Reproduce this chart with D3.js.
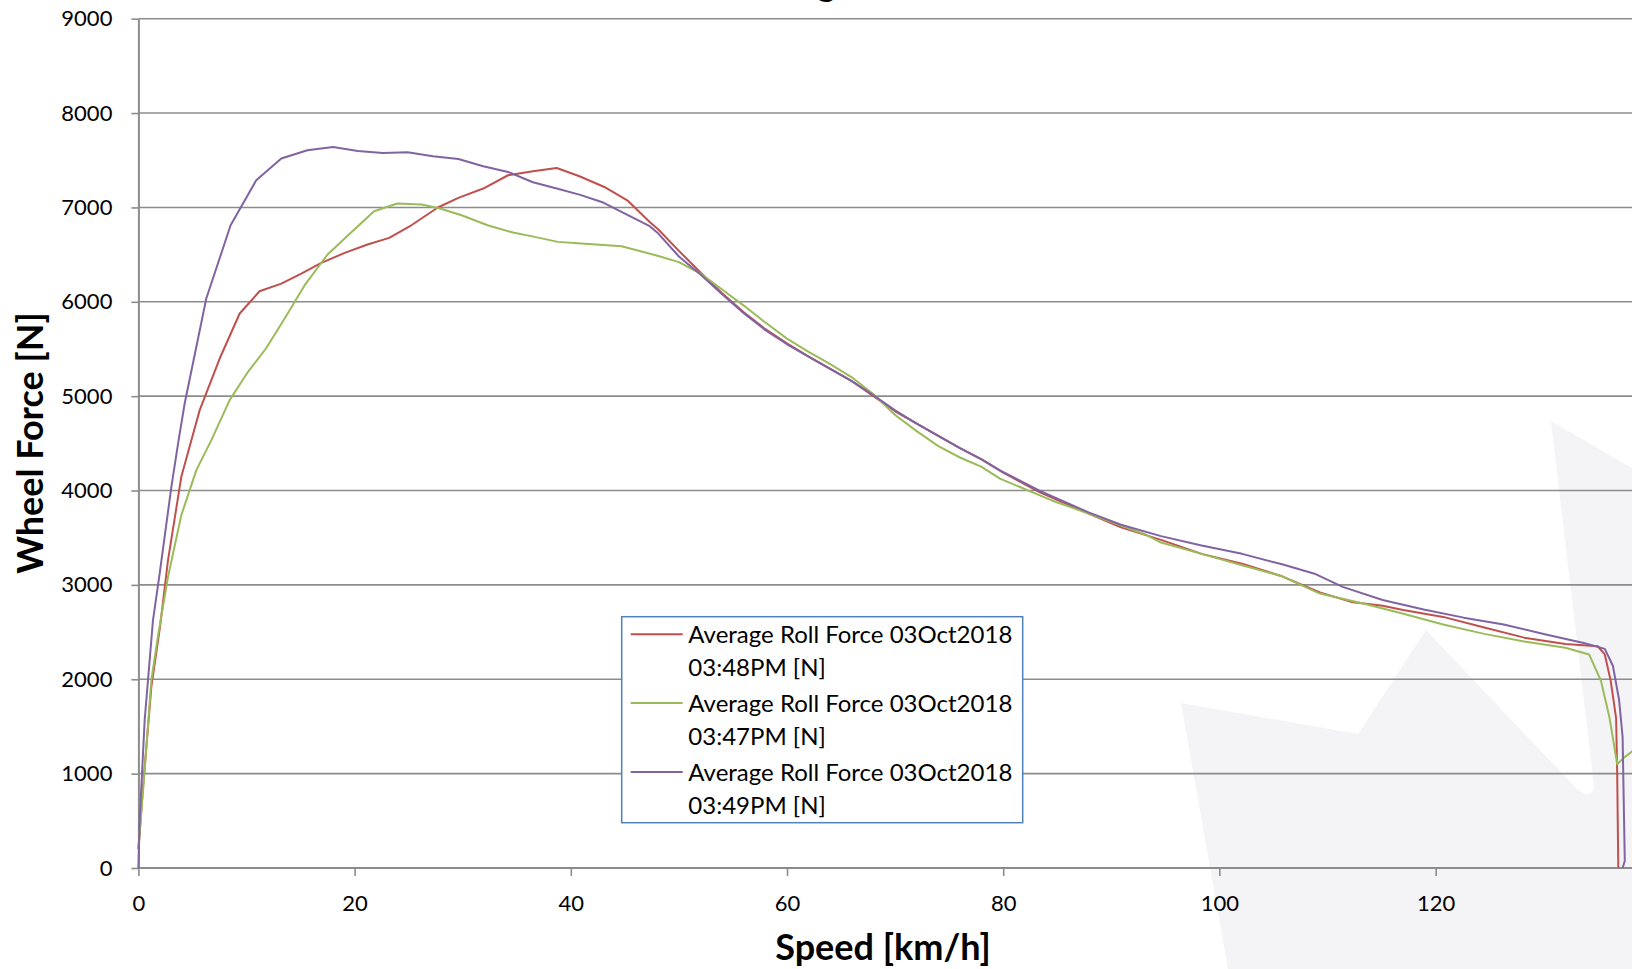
<!DOCTYPE html>
<html>
<head>
<meta charset="utf-8">
<script src="https://cdn.jsdelivr.net/npm/d3@7"></script>
<style>
  html, body { margin: 0; padding: 0; background: #fff; }
  svg { display: block; font-family: Lato, "Open Sans", sans-serif; }
</style>
</head>
<body>
<svg width="1632" height="969"></svg>
<script>
  // series values (speed km/h, force N)
  const speed48 = [0, 0.43, 1.2, 2.0, 2.74, 3.97, 4.9, 5.67, 7.52, 9.37, 11.2, 13.22, 15.07, 16.92, 19.08, 21.2, 23.2, 25.25, 27.7, 29.6, 31.9, 34.2, 36.5, 38.7, 40.8, 43.1, 45.3, 47.3, 48.1, 50, 52, 54, 56, 58, 60, 62, 64, 66, 68, 70, 72, 74, 76, 78, 80, 83.4, 87.9, 90.9, 94.6, 98.35, 102.1, 105.8, 109.3, 112.2, 115.1, 117, 120.7, 124.5, 128.2, 132, 135.0, 135.65, 136.2, 136.7, 136.8, 136.9];
  const force48 = [200, 861, 1921, 2556, 3263, 4145, 4534, 4852, 5399, 5876, 6112, 6193, 6299, 6412, 6518, 6607, 6677, 6811, 6999, 7101, 7200, 7341, 7383, 7418, 7330, 7217, 7069, 6846, 6766, 6540, 6310, 6090, 5890, 5710, 5560, 5420, 5290, 5160, 5000, 4840, 4710, 4580, 4450, 4330, 4190, 3980, 3755, 3610, 3477, 3329, 3225, 3091, 2920, 2820, 2780, 2733, 2661, 2549, 2441, 2374, 2350, 2263, 1983, 1586, 988, 0];

  const speed47 = [0, 0.58, 1.2, 1.8, 2.74, 3.97, 5.36, 6.75, 8.44, 10.14, 11.8, 13.53, 15.38, 17.5, 19.4, 21.8, 23.95, 26.2, 27.9, 29.9, 32.3, 34.65, 36.66, 38.8, 41.0, 44.7, 48.1, 50, 52, 54, 56, 58, 60, 62, 64, 66, 68, 70, 72, 74, 76, 78, 79.7, 84.5, 88.4, 93.1, 94.6, 98.35, 102.1, 105.8, 109.3, 113.4, 117.1, 120.7, 124.5, 128.2, 132, 134.2, 135.3, 136.1, 136.8, 137.4, 138.3];
  const force47 = [200, 1038, 1992, 2450, 3086, 3739, 4216, 4534, 4958, 5258, 5505, 5823, 6176, 6501, 6706, 6960, 7041, 7031, 6988, 6917, 6811, 6734, 6688, 6635, 6617, 6589, 6486, 6420, 6300, 6130, 5960, 5780, 5610, 5470, 5340, 5200, 5020, 4800, 4630, 4470, 4350, 4250, 4126, 3895, 3736, 3537, 3449, 3329, 3209, 3091, 2908, 2800, 2692, 2580, 2481, 2401, 2334, 2263, 1983, 1586, 1100, 1167, 1247];

  const speed49 = [0, 0.12, 0.58, 1.35, 1.97, 3.05, 3.72, 4.28, 6.28, 8.53, 10.9, 13.22, 15.63, 18.0, 20.3, 22.6, 24.9, 27.25, 29.6, 31.9, 34.2, 36.5, 38.7, 40.8, 43.0, 45.1, 47.3, 48.1, 50, 52, 54, 56, 58, 60, 62, 64, 66, 68, 70, 72, 74, 76, 78, 79.7, 83.4, 87.9, 90.9, 94.6, 98.35, 102.1, 105.8, 108.8, 111.4, 115.1, 118.9, 122.6, 126.3, 130.1, 133.8, 135.65, 136.4, 136.97, 137.3, 137.5, 137.3];
  const force49 = [0, 508, 1568, 2627, 3122, 4039, 4534, 4922, 6035, 6811, 7288, 7518, 7606, 7641, 7599, 7578, 7585, 7542, 7514, 7436, 7376, 7267, 7200, 7136, 7052, 6928, 6801, 6723, 6480, 6290, 6080, 5880, 5700, 5550, 5420, 5290, 5160, 5010, 4850, 4710, 4580, 4450, 4330, 4214, 3995, 3768, 3637, 3517, 3417, 3329, 3218, 3119, 2979, 2840, 2740, 2653, 2580, 2478, 2382, 2322, 2143, 1785, 1388, 74, 0];

  const xTicks = [0, 20, 40, 60, 80, 100, 120];
  const yTicks = [0, 1000, 2000, 3000, 4000, 5000, 6000, 7000, 8000, 9000];
  const seriesNames = [
    ["Average Roll Force 03Oct2018", "03:48PM [N]"],
    ["Average Roll Force 03Oct2018", "03:47PM [N]"],
    ["Average Roll Force 03Oct2018", "03:49PM [N]"]
  ];
  const seriesColors = ["#c0504d", "#9bbb59", "#8064a2"];

  const series = [
    speed48.map((s, i) => [s, force48[i]]),
    speed47.map((s, i) => [s, force47[i]]),
    speed49.map((s, i) => [s, force49[i]])
  ];

  const svg = d3.select("svg");

  // scales - the plot runs past the right edge of the picture
  const x = d3.scaleLinear().domain([0, 140]).range([138.4, 1651.8]);
  const y = d3.scaleLinear().domain([0, 9000]).range([868, 18.7]);

  // light watermark shape behind the chart
  svg.append("path")
    .attr("d", "M1181,703 L1358,734 L1426,630 L1578,790 Q1592,800 1594,786 L1551,421 L1632,468 L1632,969 L1228,969 Z")
    .attr("fill", "#f4f4f7");

  // title sits above the picture, only its descender shows
  svg.append("text")
    .attr("x", 836)
    .attr("y", -4)
    .attr("text-anchor", "end")
    .attr("font-size", 36)
    .attr("font-weight", "bold")
    .text("Coastdown Testing");

  // gridlines
  svg.append("g")
    .selectAll("line")
    .data(yTicks.filter(d => d > 0))
    .join("line")
    .attr("x1", x(0))
    .attr("x2", 1632)
    .attr("y1", d => y(d))
    .attr("y2", d => y(d))
    .attr("stroke", "#8c8c8c")
    .attr("stroke-width", 1.6);

  // axes
  const xAxis = svg.append("g")
    .attr("transform", `translate(0,${y(0)})`)
    .call(d3.axisBottom(x).tickValues(xTicks).tickSize(8).tickPadding(19).tickSizeOuter(0));
  const yAxis = svg.append("g")
    .attr("transform", `translate(${x(0)},0)`)
    .call(d3.axisLeft(y).tickValues(yTicks).tickFormat(d3.format("d")).tickSize(7).tickPadding(19).tickSizeOuter(0));

  [xAxis, yAxis].forEach(g => {
    g.select(".domain").attr("stroke", "#8c8c8c").attr("stroke-width", 2);
    g.selectAll(".tick line").attr("stroke", "#8c8c8c").attr("stroke-width", 1.6);
    g.selectAll(".tick text")
      .attr("fill", "#000")
      .attr("font-size", 22)
      .attr("font-family", "Lato, sans-serif");
  });
  xAxis.select(".domain").attr("d", `M${x(0)},0H1632`);

  // series lines
  const line = d3.line().x(d => x(d[0])).y(d => y(d[1]));
  svg.append("g")
    .selectAll("path")
    .data(series)
    .join("path")
    .attr("d", line)
    .attr("fill", "none")
    .attr("stroke", (d, i) => seriesColors[i])
    .attr("stroke-width", 2)
    .attr("stroke-linejoin", "round");

  // axis titles
  svg.append("text")
    .attr("transform", "translate(43,443) rotate(-90)")
    .attr("text-anchor", "middle")
    .attr("font-size", 36)
    .attr("font-weight", "bold")
    .text("Wheel Force [N]");

  svg.append("text")
    .attr("x", 883)
    .attr("y", 960)
    .attr("text-anchor", "middle")
    .attr("font-size", 36)
    .attr("font-weight", "bold")
    .text("Speed [km/h]");

  // legend
  const legend = svg.append("g");
  legend.append("rect")
    .attr("x", 621.7)
    .attr("y", 616.7)
    .attr("width", 401)
    .attr("height", 206)
    .attr("fill", "#fff")
    .attr("stroke", "#4f81bd")
    .attr("stroke-width", 1.5);

  const item = legend.selectAll("g.item")
    .data(seriesNames)
    .join("g")
    .attr("class", "item")
    .attr("transform", (d, i) => `translate(0,${i * 68.8})`);

  item.append("line")
    .attr("x1", 630.7)
    .attr("x2", 682.7)
    .attr("y1", 634.3)
    .attr("y2", 634.3)
    .attr("stroke", (d, i) => seriesColors[i])
    .attr("stroke-width", 2);

  item.selectAll("text")
    .data(d => d)
    .join("text")
    .attr("x", 688.3)
    .attr("y", (d, j) => 643.3 + j * 33)
    .attr("font-size", 24)
    .attr("fill", "#000")
    .text(d => d);
</script>
</body>
</html>
